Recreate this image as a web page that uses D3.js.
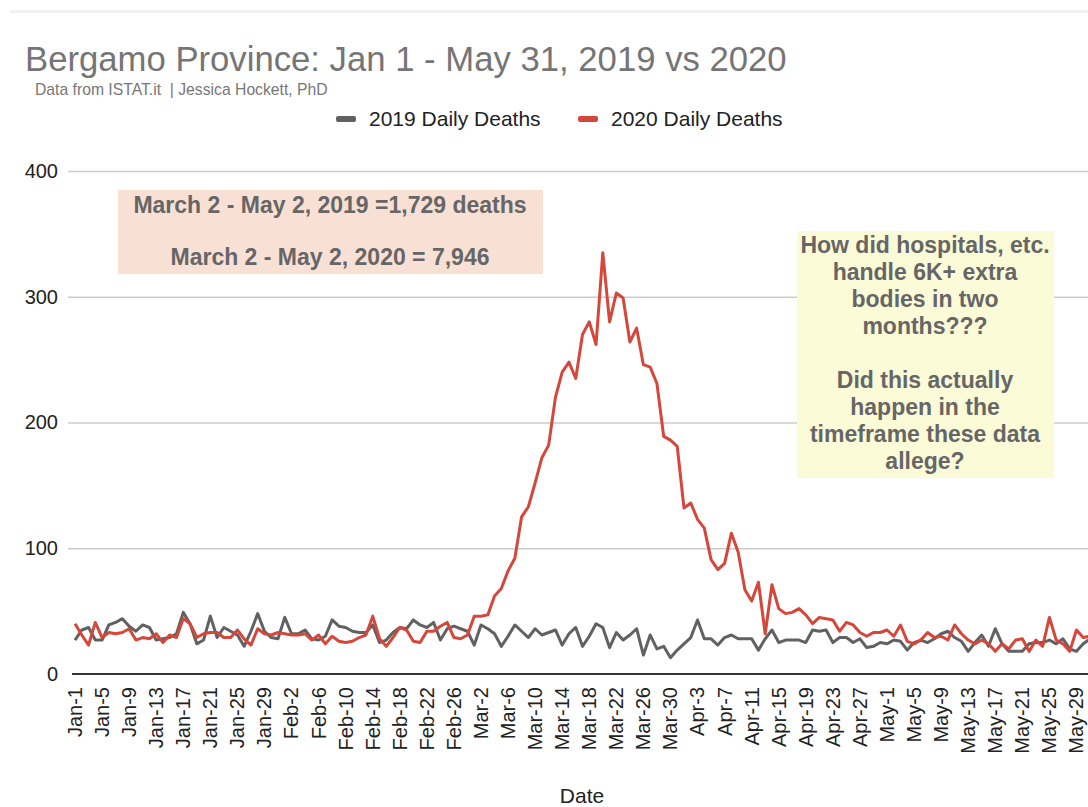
<!DOCTYPE html>
<html>
<head>
<meta charset="utf-8">
<script src="https://cdn.jsdelivr.net/npm/d3@7"></script>
<style>
  html, body { margin: 0; padding: 0; background: #fff; }
  svg { display: block; }
</style>
</head>
<body>
<svg id="chart" width="1088" height="807"></svg>
<script>
// ---------------- DATA ----------------
const titleText = "Bergamo Province: Jan 1 - May 31, 2019 vs 2020";
const subtitleText = "Data from ISTAT.it  | Jessica Hockett, PhD";
const seriesNames = ["2019 Daily Deaths", "2020 Daily Deaths"];
const xAxisTitle = "Date";

// categories: Jan 1 .. May 31 (2019 calendar)
const fmt = d3.timeFormat("%b-%-d");
const categories = d3.timeDay.range(new Date(2019, 0, 1), new Date(2019, 5, 1)).map(fmt);

const tickLabels = ["Jan-1","Jan-5","Jan-9","Jan-13","Jan-17","Jan-21","Jan-25","Jan-29",
  "Feb-2","Feb-6","Feb-10","Feb-14","Feb-18","Feb-22","Feb-26",
  "Mar-2","Mar-6","Mar-10","Mar-14","Mar-18","Mar-22","Mar-26","Mar-30",
  "Apr-3","Apr-7","Apr-11","Apr-15","Apr-19","Apr-23","Apr-27",
  "May-1","May-5","May-9","May-13","May-17","May-21","May-25","May-29"];

const yTicks = [0, 100, 200, 300, 400];

const deaths2019 = [
  27, 35, 37, 27, 27, 39, 41, 44, 38, 34,
  39, 37, 27, 28, 29, 32, 49, 40, 24, 27,
  46, 29, 37, 34, 31, 22, 34, 48, 34, 29,
  28, 45, 32, 32, 35, 28, 27, 30, 43, 38,
  37, 34, 33, 33, 39, 25, 27, 33, 37, 36,
  43, 39, 37, 41, 27, 36, 38, 36, 34, 23,
  39, 36, 32, 22, 30, 39, 34, 29, 36, 31,
  33, 35, 23, 32, 37, 22, 30, 40, 37, 21,
  33, 27, 31, 36, 15, 31, 20, 22, 13, 19,
  24, 29, 43, 28, 28, 23, 29, 31, 28, 28,
  28, 19, 28, 35, 25, 27, 27, 27, 25, 35,
  34, 35, 25, 29, 29, 25, 28, 21, 22, 25,
  24, 27, 26, 19, 25, 27, 25, 28, 32, 34,
  29, 26, 18, 25, 31, 22, 36, 24, 18, 18,
  18, 24, 25, 25, 27, 24, 28, 20, 18, 24, 28
];

const deaths2020 = [
  40, 31, 23, 41, 29, 33, 32, 33, 36, 27,
  29, 28, 32, 25, 31, 29, 44, 40, 29, 32,
  33, 33, 29, 29, 35, 28, 23, 36, 32, 31,
  33, 32, 31, 31, 32, 27, 31, 24, 30, 26,
  25, 26, 29, 31, 46, 28, 22, 29, 37, 35,
  26, 25, 34, 34, 38, 41, 29, 28, 31, 46,
  46, 47, 62, 68, 82, 92, 125, 133, 152, 172,
  182, 220, 240, 248, 235, 270, 280, 262, 335, 280,
  303, 299, 264, 275, 246, 244, 231, 189, 186, 181,
  132, 136, 123, 116, 91, 83, 88, 112, 97, 67,
  58, 73, 32, 71, 52, 48, 49, 52, 47, 40,
  45, 44, 43, 34, 41, 39, 33, 30, 33, 33,
  35, 30, 39, 26, 24, 27, 33, 29, 30, 27,
  39, 32, 27, 24, 27, 24, 18, 24, 20, 27,
  28, 18, 27, 22, 45, 27, 24, 18, 35, 29, 30
];

const note1Lines = ["March 2 - May 2, 2019 =1,729 deaths", "March 2 - May 2, 2020 = 7,946"];
const note2Lines = ["How did hospitals, etc.", "handle 6K+ extra", "bodies in two", "months???", "",
  "Did this actually", "happen in the", "timeframe these data", "allege?"];

const colors = ["#616161", "#d4473a"];

// ---------------- DRAW ----------------
const W = 1088, H = 807;
const svg = d3.select("#chart");
const FONT = "'Liberation Sans', Arial, Helvetica, sans-serif";

svg.append("rect").attr("x", 0).attr("y", 0).attr("width", W).attr("height", H).attr("fill", "#fff");
svg.append("rect").attr("x", 10).attr("y", 10).attr("width", W - 10).attr("height", 3).attr("fill", "#f1f1f1");

const x = d3.scalePoint().domain(categories).range([75, 1090]);
const y = d3.scaleLinear().domain([0, 400]).range([674, 171]);

// gridlines + y labels
const yAxis = svg.append("g").attr("transform", "translate(68,0)")
  .call(d3.axisLeft(y).tickValues(yTicks).tickSize(-(W - 68)).tickPadding(10).tickFormat(d3.format("d")));
yAxis.select(".domain").remove();
yAxis.selectAll(".tick line").attr("stroke", "#cccccc").attr("stroke-width", 1.5);
yAxis.selectAll(".tick text").attr("font-family", FONT).attr("font-size", 20).attr("fill", "#222");
yAxis.selectAll(".tick").filter(d => d === 0).select("line").remove();

// zero baseline
svg.append("line").attr("x1", 72).attr("x2", W).attr("y1", y(0)).attr("y2", y(0))
  .attr("stroke", "#333").attr("stroke-width", 2);

// x axis labels
const xAxis = svg.append("g").attr("transform", `translate(0,${y(0)})`)
  .call(d3.axisBottom(x).tickValues(tickLabels).tickSize(0).tickPadding(0));
xAxis.select(".domain").remove();
xAxis.selectAll(".tick text")
  .attr("font-family", FONT).attr("font-size", 20).attr("fill", "#222")
  .attr("text-anchor", "end")
  .attr("transform", "translate(0,13) rotate(-90)")
  .attr("x", 0).attr("y", 0).attr("dy", "0.32em");

svg.append("text").attr("x", 582).attr("y", 803).attr("text-anchor", "middle")
  .attr("font-family", FONT).attr("font-size", 21).attr("fill", "#222").text(xAxisTitle);

// annotation boxes
const n1 = svg.append("g");
n1.append("rect").attr("x", 118).attr("y", 190).attr("width", 425).attr("height", 84).attr("fill", "#f8e0d5");
n1.selectAll("text").data(note1Lines).join("text")
  .attr("x", 330).attr("y", (d, i) => 213 + i * 52).attr("text-anchor", "middle")
  .attr("font-family", FONT).attr("font-weight", "bold").attr("font-size", 23).attr("fill", "#666")
  .text(d => d);

const n2 = svg.append("g");
n2.append("rect").attr("x", 797).attr("y", 231).attr("width", 257).attr("height", 247).attr("fill", "#fcfbd8");
n2.selectAll("text").data(note2Lines).join("text")
  .attr("x", 925).attr("y", (d, i) => 253 + i * 27).attr("text-anchor", "middle")
  .attr("font-family", FONT).attr("font-weight", "bold").attr("font-size", 23).attr("fill", "#666")
  .text(d => d);

// lines
const line = d3.line().x((d, i) => x(categories[i])).y(d => y(d)).curve(d3.curveLinear);
[deaths2019, deaths2020].forEach((s, k) => {
  svg.append("path").datum(s).attr("d", line).attr("fill", "none")
    .attr("stroke", colors[k]).attr("stroke-width", 3).attr("stroke-linejoin", "round");
});

// title & subtitle (fit to measured widths in the reference)
function fitText(sel, targetW) {
  sel.attr("font-size", 100);
  const w = sel.node().getComputedTextLength();
  sel.attr("font-size", 100 * targetW / w);
}
const title = svg.append("text").attr("x", 25).attr("y", 71).attr("font-family", FONT)
  .attr("fill", "#757575").text(titleText);
fitText(title, 762);
const sub = svg.append("text").attr("x", 35).attr("y", 95).attr("font-family", FONT)
  .attr("fill", "#777").style("white-space", "pre").attr("xml:space", "preserve").text(subtitleText);
fitText(sub, 293);

// legend
const legX = [336, 578];
seriesNames.forEach((name, k) => {
  svg.append("rect").attr("x", legX[k]).attr("y", 116).attr("width", 20).attr("height", 6).attr("rx", 2)
    .attr("fill", colors[k]);
  svg.append("text").attr("x", legX[k] + 33).attr("y", 126).attr("font-family", FONT).attr("font-size", 21)
    .attr("fill", "#222").text(name);
});
</script>
</body>
</html>
